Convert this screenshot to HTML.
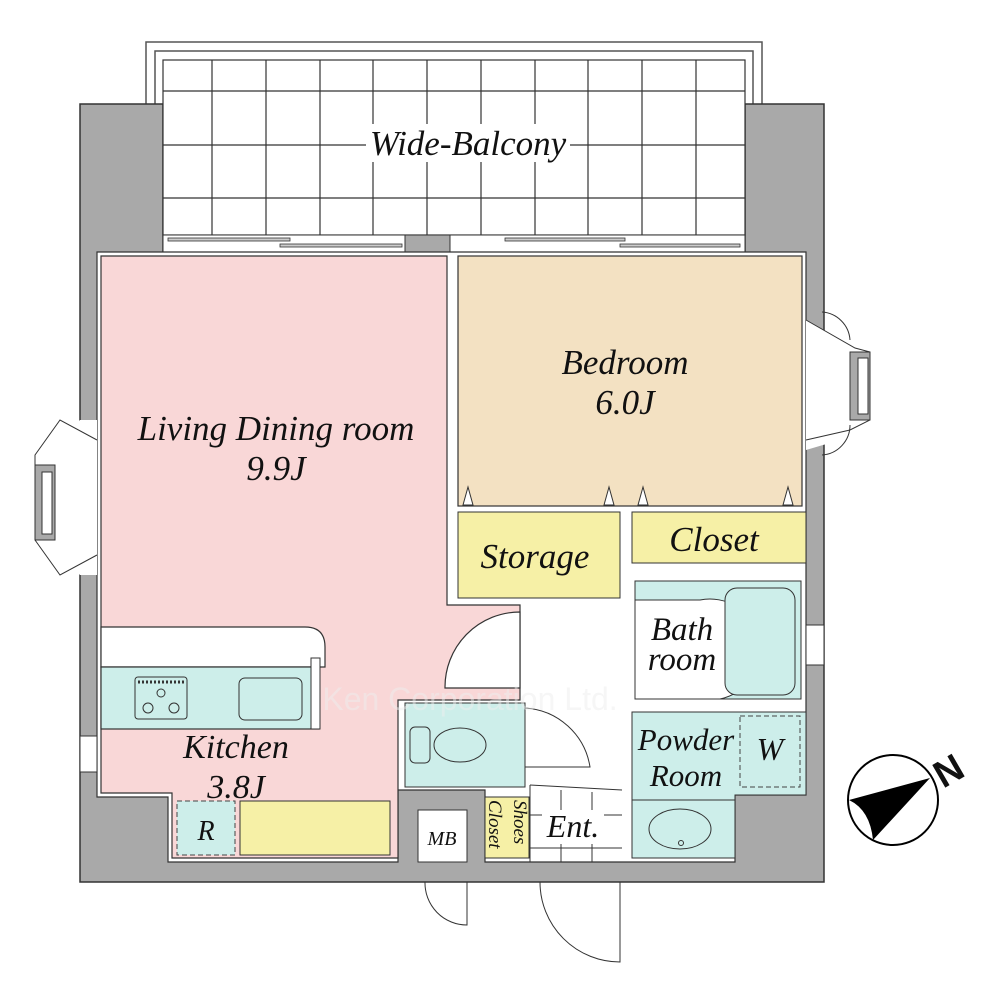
<!DOCTYPE html>
<html><head><meta charset="utf-8"><style>
html,body{margin:0;padding:0;background:#fff;}
svg{display:block;}
text{font-family:"Liberation Serif",serif;font-style:italic;fill:#111;}
</style></head><body>
<svg width="1000" height="1000" viewBox="0 0 1000 1000" xmlns="http://www.w3.org/2000/svg">
<rect x="146" y="42" width="616" height="200" fill="#fff" stroke="#555" stroke-width="1.5"/>
<rect x="155" y="51" width="598" height="190" fill="#fff" stroke="#555" stroke-width="1.5"/>
<path d="M80,104 H163 V252 H745 V104 H824 V882 H80 Z" fill="#a9a9a9" stroke="#333" stroke-width="1.5"/>
<rect x="163" y="60" width="582" height="175" fill="#fff" stroke="#333" stroke-width="1.2"/>
<g stroke="#333" stroke-width="1.2">
<line x1="212" y1="60" x2="212" y2="235"/><line x1="266" y1="60" x2="266" y2="235"/><line x1="320" y1="60" x2="320" y2="235"/><line x1="373" y1="60" x2="373" y2="235"/><line x1="427" y1="60" x2="427" y2="235"/><line x1="481" y1="60" x2="481" y2="235"/><line x1="535" y1="60" x2="535" y2="235"/><line x1="588" y1="60" x2="588" y2="235"/><line x1="642" y1="60" x2="642" y2="235"/><line x1="696" y1="60" x2="696" y2="235"/>
<line x1="163" y1="91" x2="745" y2="91"/><line x1="163" y1="145" x2="745" y2="145"/><line x1="163" y1="198" x2="745" y2="198"/>
</g>
<rect x="366" y="124" width="204" height="38" fill="#fff"/>
<text x="468" y="155" font-size="35" text-anchor="middle">Wide-Balcony</text>
<rect x="163" y="235" width="242" height="17" fill="#fff" stroke="#333"/>
<rect x="405" y="235" width="45" height="17" fill="#a9a9a9" stroke="#333"/>
<rect x="450" y="235" width="295" height="17" fill="#fff" stroke="#333"/>
<g fill="#ccc" stroke="#333" stroke-width="0.8">
<rect x="168" y="238" width="122" height="3"/><rect x="280" y="244" width="122" height="3"/>
<rect x="505" y="238" width="120" height="3"/><rect x="620" y="244" width="120" height="3"/>
</g>
<path d="M97,252 H806 V795 H735 V862 H485 V790 H398 V862 H168 V797 H97 Z" fill="#fff" stroke="#333" stroke-width="1.2"/>
<path d="M101,256 H447 V605 H520 V700 H398 V858 H172 V793 H101 Z" fill="#f9d7d7" stroke="#333" stroke-width="1.2"/>
<path d="M520,612 A75,75 0 0 0 445,688 H520 Z" fill="#fff" stroke="#333" stroke-width="1.2"/>
<path d="M101,627 H305 Q325,627 325,647 V667 H101 Z" fill="#fff" stroke="#333" stroke-width="1.2"/>
<rect x="101" y="667" width="218" height="62" fill="#cdeeea" stroke="#333" stroke-width="1.2"/>
<rect x="311" y="658" width="9" height="71" fill="#fff" stroke="#333"/>
<rect x="135" y="677" width="52" height="42" rx="3" fill="#cdeeea" stroke="#333"/>
<line x1="138" y1="682" x2="184" y2="682" stroke="#333" stroke-width="3" stroke-dasharray="2,2"/>
<circle cx="161" cy="693" r="4" fill="none" stroke="#333"/><circle cx="148" cy="708" r="5" fill="none" stroke="#333"/><circle cx="174" cy="708" r="5" fill="none" stroke="#333"/>
<rect x="239" y="678" width="63" height="42" rx="6" fill="#cdeeea" stroke="#333"/>
<rect x="177" y="801" width="58" height="54" fill="#cdeeea" stroke="#444" stroke-dasharray="5,3"/>
<text x="206" y="840" font-size="28" text-anchor="middle">R</text>
<rect x="240" y="801" width="150" height="54" fill="#f6f0a6" stroke="#333"/>
<rect x="458" y="256" width="344" height="250" fill="#f3e1c2" stroke="#333" stroke-width="1.2"/>
<g fill="#fff" stroke="#333"><path d="M463,505 L468,487 L473,505Z"/><path d="M604,505 L609,487 L614,505Z"/><path d="M638,505 L643,487 L648,505Z"/><path d="M783,505 L788,487 L793,505Z"/></g>
<rect x="458" y="512" width="162" height="86" fill="#f6f0a6" stroke="#333"/>
<rect x="632" y="512" width="174" height="51" fill="#f6f0a6" stroke="#333"/>
<rect x="635" y="581" width="166" height="118" fill="#cdeeea" stroke="#333"/>
<path d="M635,600 H700 A50,50 0 0 1 720,699 H635 Z" fill="#fff" stroke="#333"/>
<rect x="725" y="588" width="70" height="107" rx="12" fill="#cdeeea" stroke="#333"/>
<path d="M632,712 H806 V795 H735 V858 H632 Z" fill="#cdeeea" stroke="#333"/>
<line x1="632" y1="800" x2="735" y2="800" stroke="#333"/>
<rect x="740" y="716" width="60" height="71" fill="none" stroke="#444" stroke-dasharray="5,3"/>
<ellipse cx="680" cy="829" rx="31" ry="20" fill="none" stroke="#333"/><circle cx="681" cy="843" r="2.5" fill="none" stroke="#333"/>
<rect x="405" y="703" width="120" height="84" fill="#cdeeea" stroke="#333"/>
<ellipse cx="460" cy="745" rx="26" ry="17" fill="none" stroke="#333"/>
<rect x="410" y="727" width="20" height="36" rx="5" fill="none" stroke="#333"/>
<path d="M525,708 A70,70 0 0 1 590,767 H525 Z" fill="#fff" stroke="#333"/>
<rect x="485" y="797" width="44" height="61" fill="#f6f0a6" stroke="#333"/>
<rect x="418" y="810" width="49" height="52" fill="#fff" stroke="#333"/>
<text x="442" y="845" font-size="20" text-anchor="middle">MB</text>
<g stroke="#333" stroke-width="1"><line x1="530" y1="785" x2="622" y2="790"/><line x1="530" y1="785" x2="530" y2="862"/><line x1="561" y1="790" x2="561" y2="862"/><line x1="592" y1="792" x2="592" y2="862"/><line x1="530" y1="815" x2="622" y2="815"/><line x1="530" y1="848" x2="622" y2="848"/></g>
<rect x="542" y="810" width="62" height="34" fill="#fff"/>
<path d="M540,882 A80,80 0 0 0 620,962 V882" fill="none" stroke="#333"/>
<path d="M425,882 A42,42 0 0 0 467,925 V882" fill="none" stroke="#333"/>
<path d="M80,420 L55,450 V545 L80,575 H97 V420 Z" fill="#fff"/>
<path d="M97,440 L60,420 L35,455 V540 L60,575 L97,555" fill="none" stroke="#333"/>
<rect x="35" y="465" width="20" height="75" fill="#a9a9a9" stroke="#333"/>
<rect x="42" y="472" width="10" height="62" fill="#fff" stroke="#333"/>
<path d="M806,320 L840,340 L870,355 V420 L840,440 L806,450 Z" fill="#fff"/>
<path d="M806,320 L855,348 L870,352 V420 L850,430 L806,440" fill="none" stroke="#333"/>
<rect x="850" y="352" width="20" height="68" fill="#a9a9a9" stroke="#333"/>
<rect x="858" y="358" width="10" height="56" fill="#fff" stroke="#333"/>
<path d="M822,312 A30,30 0 0 1 850,340" fill="none" stroke="#333"/><path d="M822,455 A30,30 0 0 0 850,425" fill="none" stroke="#333"/>
<rect x="806" y="625" width="18" height="40" fill="#fff" stroke="#333"/>
<rect x="80" y="736" width="17" height="36" fill="#fff" stroke="#333"/>
<circle cx="893" cy="800" r="45" fill="#fff" stroke="#000" stroke-width="2"/>
<path d="M930,778 L849,800 Q870,810 873,840 Z" fill="#000"/>
<text x="955" y="782" style="font-size:38px;font-style:normal;font-weight:bold;font-family:'Liberation Sans',sans-serif" transform="rotate(-30 955 782)" text-anchor="middle">N</text>
<text x="276" y="440" font-size="35" text-anchor="middle">Living Dining room</text>
<text x="276" y="480" font-size="35" text-anchor="middle">9.9J</text>
<text x="625" y="374" font-size="35" text-anchor="middle">Bedroom</text>
<text x="625" y="414" font-size="35" text-anchor="middle">6.0J</text>
<text x="535" y="568" font-size="35" text-anchor="middle">Storage</text>
<text x="714" y="551" font-size="35" text-anchor="middle">Closet</text>
<text x="682" y="640" font-size="33" text-anchor="middle">Bath</text>
<text x="682" y="670" font-size="33" text-anchor="middle">room</text>
<text x="686" y="750" font-size="31" text-anchor="middle">Powder</text>
<text x="686" y="786" font-size="31" text-anchor="middle">Room</text>
<text x="770" y="760" font-size="32" text-anchor="middle">W</text>
<text x="236" y="758" font-size="34" text-anchor="middle">Kitchen</text>
<text x="236" y="798" font-size="34" text-anchor="middle">3.8J</text>
<text x="573" y="837" font-size="32" text-anchor="middle">Ent.</text>
<text font-size="19" transform="translate(514,800) rotate(90)">Shoes</text>
<text font-size="19" transform="translate(489,800) rotate(90)">Closet</text>
<text x="470" y="710" text-anchor="middle" style="font-size:32px;font-style:normal;font-family:'Liberation Sans',sans-serif;fill:#eee;fill-opacity:0.5">Ken Corporation Ltd.</text>
</svg>
</body></html>
